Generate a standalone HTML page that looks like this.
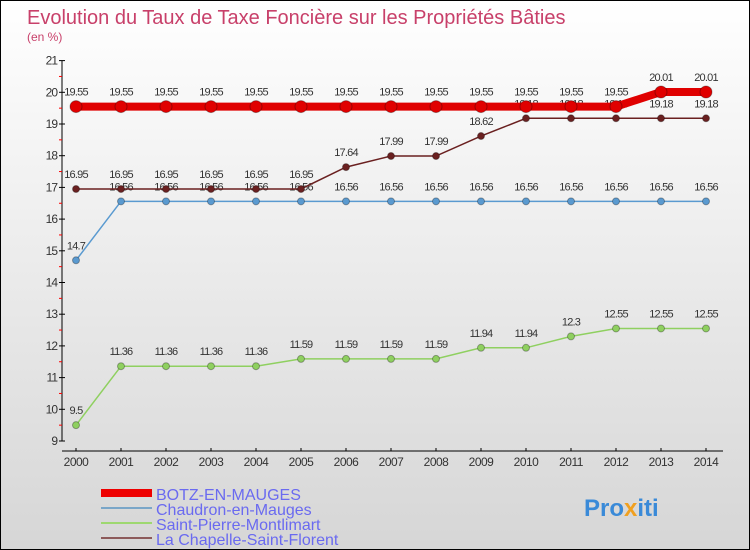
<!DOCTYPE html>
<html><head><meta charset="utf-8"><style>
body{margin:0}
#c{width:748px;height:548px;border:1px solid #000;background:linear-gradient(#fff,#d6d6d6);position:relative;font-family:"Liberation Sans",sans-serif;overflow:hidden}
</style></head><body>
<div id="c">
<svg id="s" width="748" height="548" style="position:absolute;left:0;top:0">
<text x="26" y="23" font-size="20" fill="#c8406a">Evolution du Taux de Taxe Foncière sur les Propriétés Bâties</text>
<text x="26" y="40" font-size="12" fill="#c8406a">(en %)</text>
<g id="axes"></g><g id="series"></g>
<g>
<rect x="100" y="488" width="51" height="8" fill="#e00"/>
<line x1="100" y1="507" x2="151" y2="507" stroke="#7aa6c8" stroke-width="2"/>
<line x1="100" y1="522" x2="151" y2="522" stroke="#9ed870" stroke-width="2"/>
<line x1="100" y1="537" x2="151" y2="537" stroke="#8c5a5a" stroke-width="2"/>
<g font-size="16" fill="#6a6af0">
<text x="155" y="499">BOTZ-EN-MAUGES</text>
<text x="155" y="514">Chaudron-en-Mauges</text>
<text x="155" y="529">Saint-Pierre-Montlimart</text>
<text x="155" y="544">La Chapelle-Saint-Florent</text>
</g></g>
<text x="583" y="515" font-size="24" font-weight="bold" fill="#3a8ad8">Pro<tspan fill="#f0a020">x</tspan>iti</text>
</svg></div>
<script>
const years=[2000,2001,2002,2003,2004,2005,2006,2007,2008,2009,2010,2011,2012,2013,2014];
const botz=[19.55,19.55,19.55,19.55,19.55,19.55,19.55,19.55,19.55,19.55,19.55,19.55,19.55,20.01,20.01];
const chaudron=[14.7,16.56,16.56,16.56,16.56,16.56,16.56,16.56,16.56,16.56,16.56,16.56,16.56,16.56,16.56];
const stpierre=[9.5,11.36,11.36,11.36,11.36,11.59,11.59,11.59,11.59,11.94,11.94,12.3,12.55,12.55,12.55];
const chapelle=[16.95,16.95,16.95,16.95,16.95,16.95,17.64,17.99,17.99,18.62,19.18,19.18,19.18,19.18,19.18];
const botzLabels=["19.55","19.55","19.55","19.55","19.55","19.55","19.55","19.55","19.55","19.55","19.55","19.55","19.55","20.01","20.01"];
const yTicks=[9,10,11,12,13,14,15,16,17,18,19,20,21];
const NS="http://www.w3.org/2000/svg";
const xS=i=>75+i*45;
const yS=v=>440-(v-9)*31.7;
function mk(tag,attrs,parent){const e=document.createElementNS(NS,tag);for(const k in attrs)e.setAttribute(k,attrs[k]);parent.appendChild(e);return e;}
const ax=document.getElementById('axes'),se=document.getElementById('series');
let l=mk('line',{x1:61,y1:yS(21),x2:61,y2:yS(9),stroke:'#000'},ax);


l=mk('line',{x1:61,y1:450,x2:722,y2:450,stroke:'#000'},ax);


yTicks.forEach(v=>{
 mk('line',{x1:58,y1:yS(v),x2:64,y2:yS(v),stroke:'#000'},ax);
 if(v<21) mk('line',{x1:58,y1:yS(v+0.5),x2:61,y2:yS(v+0.5),stroke:'#f00'},ax);
 const t=mk('text',{x:56,y:yS(v)+4,'font-size':12,fill:'#333','text-anchor':'end','letter-spacing':'-1'},ax);
 t.textContent=v;
 
 
});
years.forEach((y,i)=>{
 mk('line',{x1:xS(i),y1:447,x2:xS(i),y2:450,stroke:'#000'},ax);
 const t=mk('text',{x:xS(i),y:465,'font-size':12,fill:'#333','text-anchor':'middle','letter-spacing':'-0.5'},ax);
 t.textContent=y;
 
 
});
function series(vals,labels,color,w,r,name){
 const g=mk('g',{},se);
 
 
 mk('polyline',{points:vals.map((v,i)=>xS(i)+','+yS(v)).join(' '),fill:'none',stroke:color,'stroke-width':w},g);
 vals.forEach((v,i)=>{
  const c=mk('circle',{cx:xS(i),cy:yS(v),r:r,fill:color,stroke:'rgba(0,0,0,0.3)'},g);
  
  
  const t=mk('text',{x:xS(i),y:yS(v)-11,'font-size':11,fill:'#333','text-anchor':'middle','letter-spacing':'-0.8'},g);
  t.textContent=labels?labels[i]:String(v);
  
  
 });
}
series(stpierre,null,'#8fd060',1.5,3.5,'series-saint-pierre');
series(chaudron,null,'#5a9ad0',1.5,3.5,'series-chaudron');
series(chapelle,null,'#6a2020',1.5,3.5,'series-la-chapelle');
series(botz,botzLabels,'#e00000',8,6,'series-botz');
</script></body></html>
